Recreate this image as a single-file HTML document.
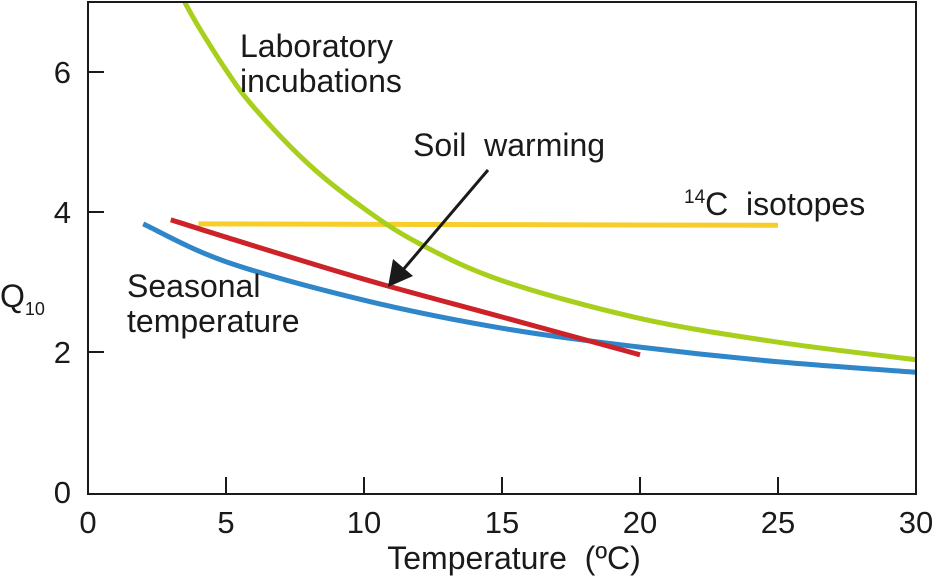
<!DOCTYPE html>
<html><head><meta charset="utf-8"><style>
body{margin:0;background:#fff}
svg text{font-family:"Liberation Sans",Arial,sans-serif;fill:#1a1a1a;white-space:pre}
</style></head><body>
<svg id="chart" width="938" height="579" viewBox="0 0 938 579" xmlns="http://www.w3.org/2000/svg">
<g id="marks"></g>
<rect x="88" y="2" width="828" height="492" fill="none" stroke="#1a1a1a" stroke-width="2"/>
<g id="ticks"></g>
<text x="0" y="307" font-size="32">Q<tspan font-size="18" dy="8">10</tspan></text>
<text x="514" y="569" font-size="32" text-anchor="middle">Temperature&#160; (ºC)</text>
<text x="240" y="57" font-size="32">Laboratory</text>
<text x="240" y="92" font-size="32">incubations</text>
<text x="413" y="156" font-size="32">Soil&#160; warming</text>
<text x="684" y="215" font-size="32"><tspan font-size="19" dy="-12">14</tspan><tspan dy="12">C&#160; isotopes</tspan></text>
<text x="127" y="297" font-size="32">Seasonal</text>
<text x="127" y="332" font-size="32">temperature</text>
<g>
<line x1="488" y1="170" x2="402" y2="271" stroke="#1a1a1a" stroke-width="3"/>
<polygon points="388,287 393,259 413,276" fill="#1a1a1a"/>
</g>
</svg>
<script>
const xTicks=[0,5,10,15,20,25,30];
const yTicks=[0,2,4,6];
const greenT=[3.5,4,5,6,8,10,12,15,20,25,30];
const greenQ=[7.0,6.65,6.03,5.5,4.68,4.05,3.55,3.02,2.48,2.14,1.89];
const blueT=[2,5,10,15,20,25,30];
const blueQ=[3.83,3.29,2.74,2.34,2.07,1.86,1.71];
const redT=[3,5,10,15,20];
const redQ=[3.89,3.64,3.04,2.5,1.96];
const yellowT=[4,25];
const yellowQ=[3.83,3.81];
const X=t=>88+t*(828/30);
const Y=q=>492-q*70;
const NS="http://www.w3.org/2000/svg";
const marks=document.getElementById('marks'),ticks=document.getElementById('ticks');
function cat(ts,qs){
  const p=ts.map((t,i)=>[X(t),Y(qs[i])]);
  let d="M"+p[0][0]+","+p[0][1];
  for(let i=0;i<p.length-1;i++){
    const p0=p[i-1]||p[i],p1=p[i],p2=p[i+1],p3=p[i+2]||p2;
    d+=" C"+(p1[0]+(p2[0]-p0[0])/6)+","+(p1[1]+(p2[1]-p0[1])/6)+" "+(p2[0]-(p3[0]-p1[0])/6)+","+(p2[1]-(p3[1]-p1[1])/6)+" "+p2[0]+","+p2[1];
  }
  return d;
}
function series(ts,qs,color,name){
  const el=document.createElementNS(NS,'path');
  el.setAttribute('d',cat(ts,qs));
  el.setAttribute('fill','none');el.setAttribute('stroke',color);el.setAttribute('stroke-width','5');
  
  
  marks.appendChild(el);
}
series(yellowT,yellowQ,'#f7cd2a','isotopes-line');
series(greenT,greenQ,'#a8cf1c','laboratory-line');
series(blueT,blueQ,'#2f86c9','seasonal-line');
series(redT,redQ,'#cc2228','soil-warming-line');
xTicks.forEach(t=>{
  const l=document.createElementNS(NS,'line');
  l.setAttribute('x1',X(t));l.setAttribute('x2',X(t));l.setAttribute('y1',494);l.setAttribute('y2',477);
  l.setAttribute('stroke','#1a1a1a');l.setAttribute('stroke-width','2');
  
  
  ticks.appendChild(l);
  const tx=document.createElementNS(NS,'text');
  tx.setAttribute('x',X(t));tx.setAttribute('y',533);tx.setAttribute('font-size','31');tx.setAttribute('text-anchor','middle');
  tx.textContent=t;
  
  
  ticks.appendChild(tx);
});
yTicks.forEach(q=>{
  if(q>0){
    const l=document.createElementNS(NS,'line');
    l.setAttribute('x1',88);l.setAttribute('x2',104);l.setAttribute('y1',Y(q));l.setAttribute('y2',Y(q));
    l.setAttribute('stroke','#1a1a1a');l.setAttribute('stroke-width','2');
    
    
    ticks.appendChild(l);
  }
  const tx=document.createElementNS(NS,'text');
  tx.setAttribute('x',71);tx.setAttribute('y',Y(q)+11);tx.setAttribute('font-size','31');tx.setAttribute('text-anchor','end');
  tx.textContent=q;
  
  
  ticks.appendChild(tx);
});
</script>
</body></html>
